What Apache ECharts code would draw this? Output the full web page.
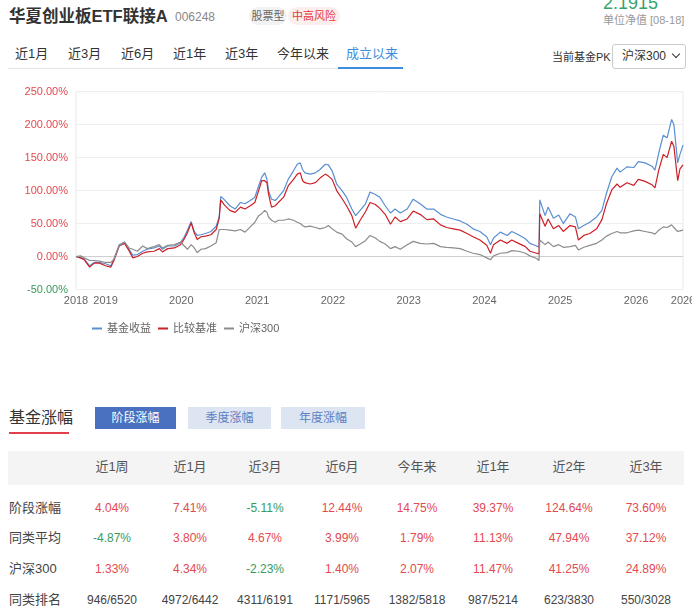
<!DOCTYPE html>
<html><head><meta charset="utf-8">
<script src="https://cdn.jsdelivr.net/npm/echarts@6/dist/echarts.min.js"></script>
<style>
body{margin:0;width:692px;height:609px;overflow:hidden;background:#fff;font-family:"Liberation Sans","Noto Sans CJK SC",sans-serif;color:#333;position:relative}
.a{position:absolute;white-space:nowrap}
.tab{position:absolute;top:45px;line-height:18px;font-size:13px;color:#333}
.btn{position:absolute;top:407px;height:22px;line-height:22px;text-align:center;font-size:12px}
.cell{position:absolute;transform:translateX(-50%);font-size:12px;line-height:16px;white-space:nowrap}
</style></head>
<body>
<div class="a" style="left:9px;top:5px;font-size:16.5px;font-weight:bold;line-height:22px;color:#333">华夏创业板ETF联接A</div>
<div class="a" style="left:175px;top:10px;font-size:12px;line-height:14px;color:#888">006248</div>
<div class="a" style="left:249px;top:7px;width:38px;height:18px;line-height:18px;border-radius:9px;background:#f2f2f2;color:#666;font-size:11px;text-align:center">股票型</div>
<div class="a" style="left:288px;top:7px;width:52px;height:18px;line-height:18px;border-radius:9px;background:#fdeeee;color:#e4393c;font-size:11px;text-align:center">中高风险</div>
<div class="a" style="left:603px;top:-7px;font-size:18px;line-height:20px;color:#35a46c">2.1915</div>
<div class="a" style="left:603px;top:14px;font-size:11px;line-height:13px;color:#999">单位净值 [08-18]</div>

<div class="tab" style="left:15px">近1月</div>
<div class="tab" style="left:68px">近3月</div>
<div class="tab" style="left:121px">近6月</div>
<div class="tab" style="left:173px">近1年</div>
<div class="tab" style="left:225px">近3年</div>
<div class="tab" style="left:277px">今年以来</div>
<div class="tab" style="left:346px;color:#3e8ee0">成立以来</div>
<div class="a" style="left:8px;top:68px;width:397px;height:1px;background:#e6e6e6"></div>
<div class="a" style="left:338px;top:67px;width:65px;height:2px;background:#3e8ee0"></div>

<div class="a" style="left:552px;top:50px;font-size:11px;line-height:14px;color:#333">当前基金PK</div>
<div class="a" style="left:612px;top:44px;width:72px;height:23px;border:1px solid #ccc;border-radius:3px;background:#fff"></div>
<div class="a" style="left:622px;top:49px;font-size:12px;line-height:14px;color:#333">沪深300</div>
<div class="a" style="left:673px;top:51px;width:5px;height:5px;border-right:1.5px solid #333;border-bottom:1.5px solid #333;transform:rotate(45deg)"></div>

<div id="chart" class="a" style="left:0;top:80px;width:710px;height:262px"></div>

<div class="a" style="left:9px;top:408px;font-size:16px;line-height:20px;color:#333">基金涨幅</div>
<div class="a" style="left:9px;top:432px;width:60px;height:2px;background:#e0404a"></div>
<div class="btn" style="left:95px;width:81px;background:#4a70c0;color:#fff">阶段涨幅</div>
<div class="btn" style="left:188px;width:83px;background:#dde5f2;color:#5d7fc3">季度涨幅</div>
<div class="btn" style="left:281px;width:84px;background:#dde5f2;color:#5d7fc3">年度涨幅</div>
<div class="a" style="left:8px;top:451px;width:676px;height:34px;background:#f4f4f4"></div>
<div id="table"></div>

<script>
// ---- chart data (decimal year, cumulative return %) ----
const xYears = [2018.61,2018.67,2018.72,2018.79,2018.85,2018.92,2019.00,2019.07,2019.11,2019.18,
2019.25,2019.31,2019.36,2019.42,2019.49,2019.55,2019.64,2019.71,2019.75,2019.82,
2019.91,2019.99,2020.04,2020.08,2020.13,2020.17,2020.21,2020.26,2020.32,2020.39,
2020.46,2020.50,2020.52,2020.57,2020.64,2020.71,2020.78,2020.84,2020.91,2020.97,
2021.02,2021.06,2021.10,2021.13,2021.15,2021.19,2021.24,2021.28,2021.35,2021.41,
2021.48,2021.53,2021.57,2021.60,2021.63,2021.70,2021.77,2021.83,2021.90,2021.94,
2021.99,2022.05,2022.12,2022.18,2022.25,2022.30,2022.36,2022.43,2022.49,2022.56,
2022.62,2022.69,2022.76,2022.82,2022.89,2022.98,2023.06,2023.15,2023.24,2023.33,
2023.42,2023.50,2023.59,2023.68,2023.77,2023.85,2023.94,2024.03,2024.08,2024.12,
2024.21,2024.30,2024.36,2024.45,2024.54,2024.60,2024.69,2024.72,2024.73,2024.80,
2024.84,2024.91,2024.98,2025.04,2025.13,2025.20,2025.24,2025.31,2025.39,2025.48,
2025.55,2025.61,2025.68,2025.75,2025.79,2025.88,2025.97,2026.03,2026.12,2026.21,
2026.25,2026.30,2026.36,2026.41,2026.47,2026.50,2026.55,2026.58,2026.62];
const fundReturn = [0,-2,-4,-14,-9,-9,-11,-14,-4,18,
22,11,2,3,8,11,13,16,11,16,
16,21,30,40,53,38,32,33,35,38,
46,61,91,86,77,72,82,80,85,90,
107,120,127,117,100,87,85,90,100,117,
130,140,142,132,127,125,127,132,140,139,
130,110,100,90,72,62,70,80,98,94,
90,77,66,72,66,72,87,80,72,72,
64,60,57,54,49,42,38,30,18,28,
37,32,38,33,27,20,16,14,86,62,
75,58,63,50,65,60,42,47,52,60,
70,96,121,134,128,136,135,144,142,137,
131,157,184,180,208,200,142,155,169];
const benchReturn = [0,-2,-5,-16,-10,-10,-14,-16,-6,16,
20,9,-2,0,5,7,8,12,7,12,
13,18,27,36,51,36,26,30,31,33,
41,58,86,78,70,67,75,72,77,82,
100,115,115,112,95,75,77,82,90,107,
117,125,127,115,112,110,112,119,125,122,
117,100,88,77,62,43,55,68,82,79,
73,64,49,60,53,57,69,64,56,57,
48,44,42,40,35,30,25,17,5,18,
25,20,25,20,15,8,5,4,65,46,
57,42,47,38,47,45,25,32,35,42,
56,80,101,110,105,112,108,117,114,109,
104,131,155,150,175,167,115,133,139];
const hs300Return = [0,1,-2,-6,-6,-7,-9,-9,-4,16,
22,13,11,8,16,12,15,18,13,17,
18,22,16,11,18,13,6,11,12,16,
21,41,43,41,40,39,41,37,45,52,
62,65,70,67,60,55,52,55,55,57,
55,52,50,47,45,46,44,42,44,47,
42,37,34,27,22,15,19,24,32,28,
23,19,12,15,11,18,23,20,19,20,
15,14,13,12,8,5,3,-2,-5,1,
5,6,9,8,5,1,-3,-6,25,18,
22,15,18,14,15,17,10,14,17,20,
25,31,35,38,36,36,39,40,38,36,
34,40,45,44,48,44,38,39,40];
const xTickValues = [2018.61,2019,2020,2021,2022,2023,2024,2025,2026,2026.62];
const seriesNames = ['基金收益','比较基准','沪深300'];

// ---- table data ----
const periods = ['近1周','近1月','近3月','近6月','今年来','近1年','近2年','近3年'];
const stageReturn = [4.04,7.41,-5.11,12.44,14.75,39.37,124.64,73.60];
const peerAverage = [-4.87,3.80,4.67,3.99,1.79,11.13,47.94,37.12];
const hs300Period = [1.33,4.34,-2.23,1.40,2.07,11.47,41.25,24.89];
const peerRank = ['946/6520','4972/6442','4311/6191','1171/5965','1382/5818','987/5214','623/3830','550/3028'];
const rowLabels = ['阶段涨幅','同类平均','沪深300','同类排名'];

const FONT = '"Liberation Sans","Noto Sans CJK SC",sans-serif';
const RED = '#e3494f', GREEN = '#3a9a5a';

const chart = echarts.init(document.getElementById('chart'));
const pair = arr => xYears.map((x, i) => [x, arr[i]]);
chart.setOption({
  animation: false,
  textStyle: {fontFamily: FONT},
  grid: {left: 76, right: 27, top: 11.7, bottom: 52.5, show: true, borderColor: '#e8e8e8', borderWidth: 1},
  legend: {data: seriesNames, left: 87, top: 238, icon: 'rect', itemWidth: 10, itemHeight: 2, itemGap: 7,
    textStyle: {fontSize: 11, color: '#666', fontFamily: FONT}},
  xAxis: {type: 'value', min: xTickValues[0], max: xTickValues[xTickValues.length - 1],
    axisLine: {show: false, onZero: false}, axisTick: {show: false}, splitLine: {show: false},
    axisLabel: {customValues: xTickValues, showMinLabel: true, showMaxLabel: true,
      formatter: v => String(Math.floor(v + 1e-6)), fontSize: 11, color: '#666', margin: 6}},
  yAxis: {type: 'value', min: -50, max: 250, interval: 50,
    axisLine: {show: false}, axisTick: {show: false},
    splitLine: {lineStyle: {color: ['#eee', '#cfcfcf', '#eee', '#eee', '#eee', '#eee', '#eee'], width: 1}},
    axisLabel: {formatter: v => v.toFixed(2) + '%', color: v => (v < 0 ? GREEN : RED), fontSize: 11, margin: 8}},
  series: [
    {name: seriesNames[0], type: 'line', data: pair(fundReturn), showSymbol: false, symbol: 'none', color: '#5a8fd0', lineStyle: {width: 1.2}},
    {name: seriesNames[1], type: 'line', data: pair(benchReturn), showSymbol: false, symbol: 'none', color: '#cc1f27', lineStyle: {width: 1.2}},
    {name: seriesNames[2], type: 'line', data: pair(hs300Return), showSymbol: false, symbol: 'none', color: '#8c8c8c', lineStyle: {width: 1.2}}
  ]
});

// ---- table ----
const colX = [112, 190, 265, 342, 417, 493, 569, 646];
const rowY = [508, 538, 569, 600];
const tbl = document.getElementById('table');
function add(text, x, y, color, size, center) {
  const d = document.createElement('div');
  d.className = center ? 'cell' : 'a';
  d.style.left = x + 'px';
  d.style.top = (y - 8) + 'px';
  d.style.color = color;
  d.style.fontSize = size + 'px';
  d.style.lineHeight = '16px';
  d.textContent = text;
  tbl.appendChild(d);
}
periods.forEach((p, i) => add(p, colX[i], 467, '#555', 13, true));
rowLabels.forEach((l, r) => add(l, 9, rowY[r], '#444', 13, false));
const fmt = v => v.toFixed(2) + '%';
[stageReturn, peerAverage, hs300Period].forEach((arr, r) => {
  arr.forEach((v, i) => add(fmt(v), colX[i], rowY[r], v < 0 ? GREEN : RED, 12, true));
});
peerRank.forEach((v, i) => add(v, colX[i], rowY[3], '#444', 12, true));
</script>
</body></html>
